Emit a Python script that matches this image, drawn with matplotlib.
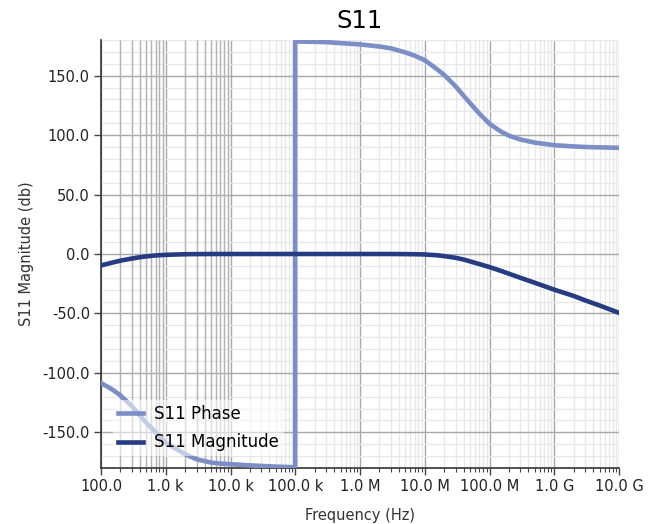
import numpy as np
import matplotlib
matplotlib.use("Agg")
import matplotlib.pyplot as plt
from matplotlib.ticker import LogLocator, NullFormatter, MultipleLocator

# Frequencies (Hz) and values
freq = [1e2, 1.5e2, 2e2, 3e2, 4e2, 5e2, 7e2, 1e3, 1.5e3, 2e3, 3e3, 5e3, 7e3, 1e4, 2e4, 5e4, 9.99e4,
        1.0e5, 3e5, 1e6, 2e6, 3e6, 5e6, 7e6, 1e7, 1.5e7, 2e7, 3e7, 4e7, 5e7, 7e7, 1e8, 1.5e8, 2e8,
        3e8, 5e8, 1e9, 2e9, 3e9, 5e9, 1e10]
phase = [-108.5, -114, -119, -128, -136, -142, -150, -158.7, -164.5, -168.5, -172.7, -175.4, -176.3,
         -176.8, -177.8, -178.8, -179.4,
         178.8, 178.2, 176.3, 174.5, 173, 169.6, 166.8, 163, 156, 150.6, 141, 133, 127, 118, 109.5,
         103, 99.5, 96.3, 93.7, 91.5, 90.5, 90, 89.7, 89.3]
magnitude = [-9.6, -7.2, -5.6, -3.8, -2.7, -2.0, -1.2, -0.7, -0.4, -0.2, -0.1, 0.0, 0.0,
             0.0, 0.0, 0.0, 0.0,
             0.0, 0.0, 0.0, 0.0, 0.0, -0.1, -0.2, -0.4, -1.0, -1.8, -3.2, -4.7, -6.2, -8.5, -11.0,
             -14.2, -16.6, -20.0, -24.2, -30.0, -35.3, -39.0, -43.3, -49.5]

xtick_vals = [1e2, 1e3, 1e4, 1e5, 1e6, 1e7, 1e8, 1e9, 1e10]
xtick_labels = ["100.0", "1.0 k", "10.0 k", "100.0 k", "1.0 M", "10.0 M", "100.0 M", "1.0 G", "10.0 G"]
ytick_vals = [-150, -100, -50, 0, 50, 100, 150]
ytick_labels = ["-150.0", "-100.0", "-50.0", "0.0", "50.0", "100.0", "150.0"]

fig = plt.figure(figsize=(6.56, 5.24), dpi=100)
ax = fig.add_axes([101/656, 1 - 468/524, 518/656, 428/524])

ax.set_xscale("log")
ax.set_xlim(1e2, 1e10)
ax.set_ylim(-180, 180)

# grid
ax.xaxis.set_minor_locator(LogLocator(base=10, subs=np.arange(2, 10), numticks=100))
ax.xaxis.set_minor_formatter(NullFormatter())
ax.yaxis.set_minor_locator(MultipleLocator(10))
ax.grid(which="major", color="#a8a8a8", linewidth=1.0)
ax.grid(which="minor", color="#e8e8e8", linewidth=1.0)
minors = [m for m in ax.xaxis.get_minorticklocs() if 1e2 < m < 1e4]
ax.vlines(minors, -180, 180, color="#b4b4b4", linewidth=1.0, zorder=0.6)
ax.set_axisbelow(True)

ax.plot(freq, phase, color="#7b8fc6", linewidth=3.3, label="S11 Phase", zorder=3)
ax.plot(freq, magnitude, color="#263c82", linewidth=3.3, label="S11 Magnitude", zorder=3)

ax.set_xticks(xtick_vals)
ax.set_xticklabels(xtick_labels)
ax.set_yticks(ytick_vals)
ax.set_yticklabels(ytick_labels)

for s in ["top", "right"]:
    ax.spines[s].set_visible(False)
for s in ["left", "bottom"]:
    ax.spines[s].set_color("#333333")
    ax.spines[s].set_linewidth(1.2)

ax.tick_params(axis="both", which="major", direction="out", length=5, width=1, color="#444444",
               labelsize=10.5, labelcolor="#222222", pad=3)
ax.tick_params(axis="x", which="minor", direction="out", length=3, width=0.8, color="#444444")
ax.tick_params(axis="y", which="minor", length=0)

ax.set_xlabel("Frequency (Hz)", fontsize=10.5, color="#333333", labelpad=10)
ax.set_ylabel("S11 Magnitude (db)", fontsize=10.5, color="#333333", labelpad=6)
ax.set_title("S11", fontsize=17.5, pad=9)

leg = ax.legend(loc="lower left", fontsize=12, frameon=True, framealpha=0.55,
                edgecolor="none", facecolor="white", handlelength=1.5, handletextpad=0.7,
                borderaxespad=0.7, labelspacing=0.62, borderpad=0.3)
leg.get_frame().set_linewidth(0)

fig.savefig("out.png", dpi=100)
